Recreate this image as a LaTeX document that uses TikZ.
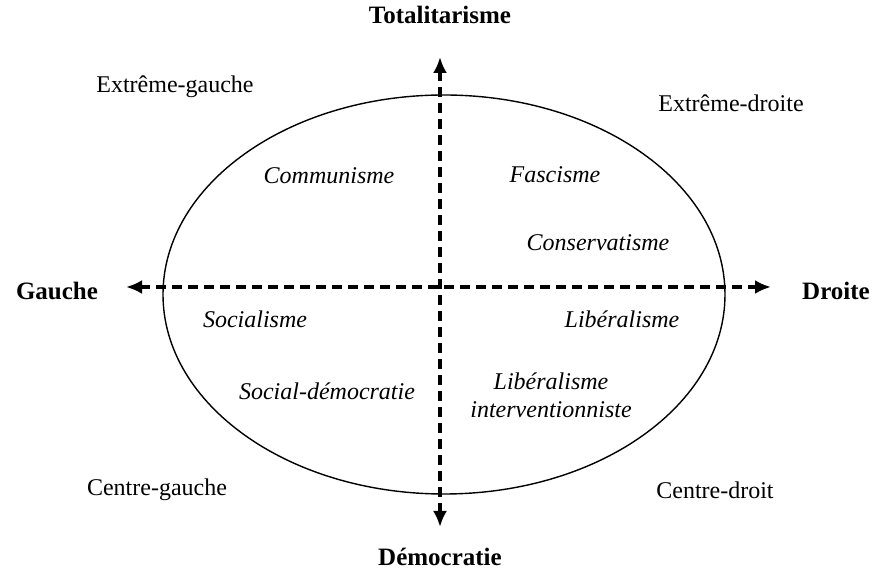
\documentclass[tikz,border=0pt]{standalone}
\usepackage{fontspec}
\setmainfont{Liberation Serif}
\usetikzlibrary{arrows.meta}

\begin{document}
\begin{tikzpicture}[x=.5pt,y=-.5pt,font=\fontsize{12}{14}\selectfont,
    axe/.style={line width=2pt,dash pattern=on 5pt off 3pt,{Latex[length=8pt,width=7pt]}-{Latex[length=8pt,width=7pt]}},
    pole/.style={font=\fontsize{12.5}{14}\selectfont\bfseries},
    courant/.style={font=\fontsize{12}{14}\selectfont\itshape,align=center}]
    \useasboundingbox (0,0) rectangle (880,571);

    \draw[line width=.7pt] (444,294.5) ellipse [x radius=140.5pt,y radius=99.75pt];

    \coordinate (haut) at (440,57);
    \coordinate (bas) at (440,527);
    \coordinate (gch) at (126,287);
    \coordinate (drt) at (771,287);
    \draw[axe] (gch) -- (drt);
    \draw[axe] (haut) -- (bas);

    \node[pole] (totalit) at (440,15) {Totalitarisme};
    \node[pole] (democ) at (440,557) {Démocratie};
    \node[pole] (gauche) at (57,291) {Gauche};
    \node[pole] (droite) at (836,291) {Droite};

    \node (extg) at (175,87) {Extrême-gauche};
    \node (extd) at (731,103) {Extrême-droite};
    \node (centg) at (157,490) {Centre-gauche};
    \node (centd) at (715,490) {Centre-droit};

    \node[courant] (comm) at (329,176) {Communisme};
    \node[courant] (fasc) at (555,175) {Fascisme};
    \node[courant] (cons) at (598,243) {Conservatisme};
    \node[courant] (soc) at (255,319) {Socialisme};
    \node[courant] (lib) at (622,319) {Libéralisme};
    \node[courant] (socdem) at (327,391) {Social-démocratie};
    \node[courant] (libint) at (551,395) {Libéralisme\\interventionniste};
\end{tikzpicture}
\end{document}
